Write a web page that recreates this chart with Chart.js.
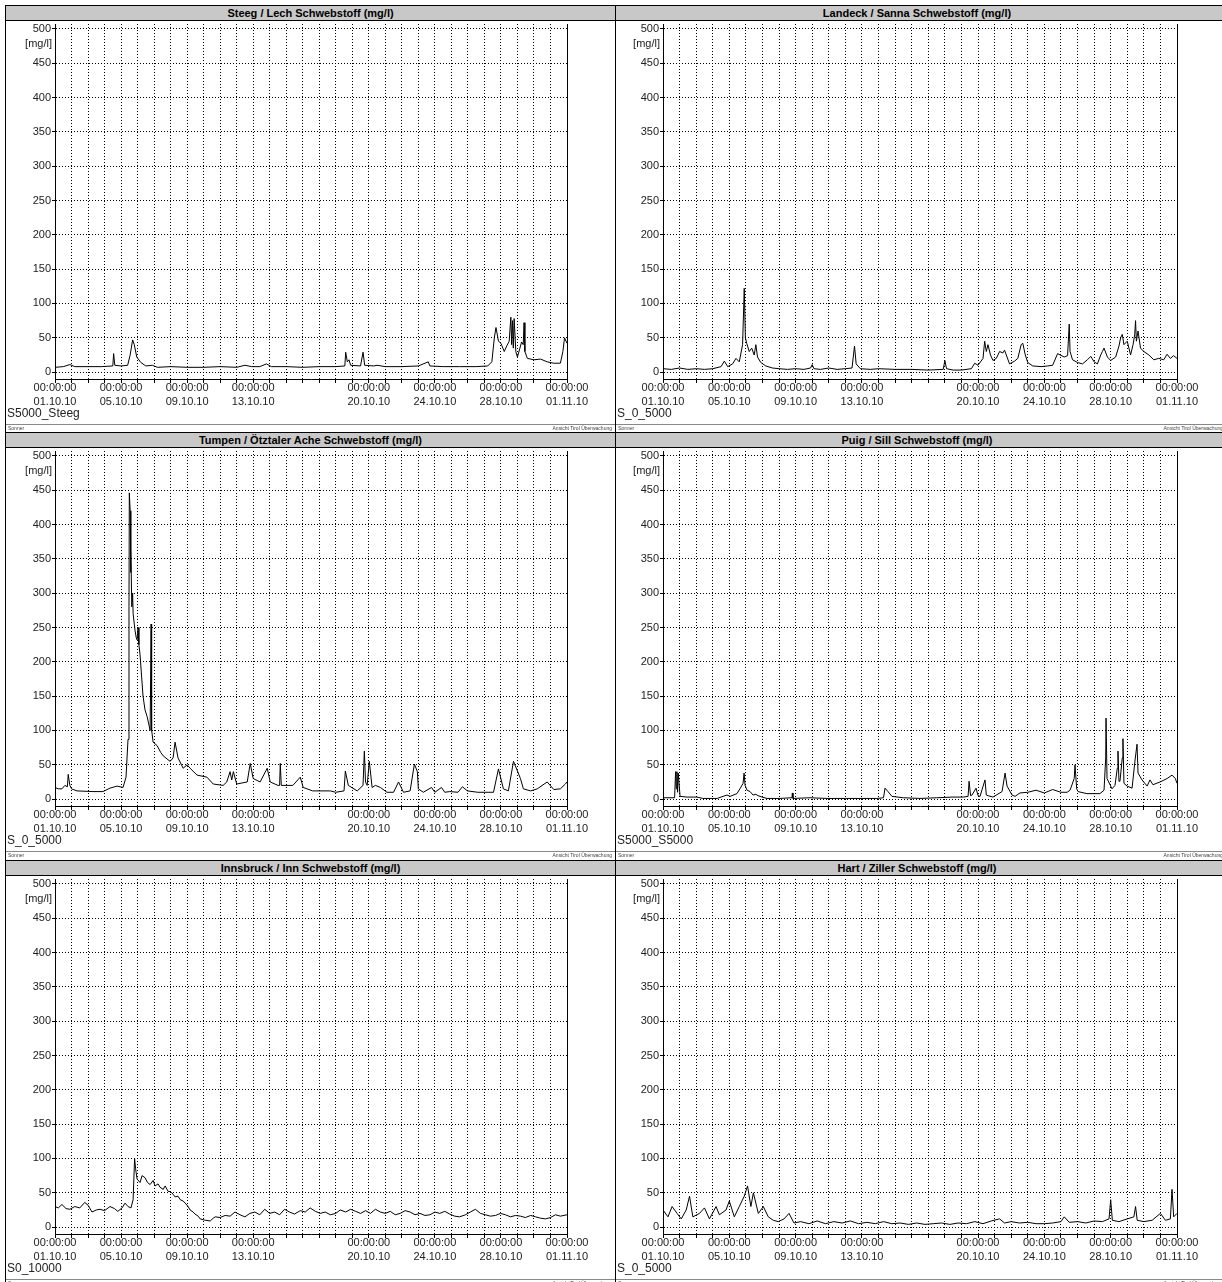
<!DOCTYPE html>
<html><head><meta charset="utf-8">
<script src="https://cdn.jsdelivr.net/npm/chart.js@4.4.1/dist/chart.umd.min.js"></script>
<style>
html,body{margin:0;padding:0;background:#fff;width:1222px;height:1282px;overflow:hidden;font-family:Arial,"Liberation Sans",sans-serif;}
.panel{position:absolute;border:1px solid #000;box-sizing:border-box;overflow:hidden;}
.tbar{position:absolute;left:0;right:0;top:0;height:14px;background:#c8c8c8;border-bottom:1px solid #000;font-weight:bold;font-size:11px;line-height:14px;text-align:center;color:#000;white-space:nowrap;}
.unit{position:absolute;top:31px;font-size:11px;line-height:13px;color:#222;text-align:right;width:40px;}
.code{position:absolute;left:1px;top:401px;font-size:12px;line-height:13px;color:#222;white-space:nowrap;}
.foot{position:absolute;left:0;right:0;top:418px;height:9px;border-top:1px solid #888;font-size:5px;line-height:7px;color:#444;}
.foot .l{position:absolute;left:2px;top:0;}
.foot .r{position:absolute;right:3px;top:0;}
canvas{position:absolute;left:0;top:15px;}
</style>
</head><body>
<script>
// ---- axis / tick data ----
const xLabelDays = [0, 4, 8, 12, 19, 23, 27, 31];
const xLabelDates = ['01.10.10', '05.10.10', '09.10.10', '13.10.10', '20.10.10', '24.10.10', '28.10.10', '01.11.10'];
const xLabelTime = '00:00:00';
const yTickValues = [0, 50, 100, 150, 200, 250, 300, 350, 400, 450, 500];
const yUnit = '[mg/l]';
const titles = ['Steeg / Lech Schwebstoff (mg/l)', 'Landeck / Sanna Schwebstoff (mg/l)',
  'Tumpen / Ötztaler Ache Schwebstoff (mg/l)', 'Puig / Sill Schwebstoff (mg/l)',
  'Innsbruck / Inn Schwebstoff (mg/l)', 'Hart / Ziller Schwebstoff (mg/l)'];
const codes = ['S5000_Steeg', 'S_0_5000', 'S_0_5000', 'S5000_S5000', 'S0_10000', 'S_0_5000'];
const footLeft = 'Sonner';
const footRight = 'Ansicht Tirol Überwachung';

// ---- series: [day since 01.10.10 00:00, mg/l] ----
const steegLech = [[0,7],[0.5,8],[0.9,11],[1.2,8],[2,8],[2.8,8],[3.5,9],[3.55,27],[3.62,10],[4.0,9],[4.4,10],[4.55,25],[4.7,47],[4.8,40],[4.95,22],[5.2,14],[5.5,9],[5.9,10],[6.2,7],[7,8],[8,7],[9,7],[10,8],[11,7],[11.5,10],[11.9,8],[12.4,8],[12.8,12],[13.1,8],[14,8],[15,7],[16,8],[17,8],[17.55,9],[17.6,29],[17.7,15],[17.8,18],[17.9,10],[18.5,9],[18.65,29],[18.75,10],[19.3,9],[19.5,10],[20,8],[21,8],[22,9],[22.6,15],[22.7,9],[23.5,8],[24.5,8],[25.5,8],[26.2,9],[26.45,15],[26.6,50],[26.7,65],[26.85,45],[27.0,42],[27.2,30],[27.35,38],[27.5,45],[27.6,80],[27.65,40],[27.7,75],[27.75,35],[27.8,78],[27.9,30],[28.0,22],[28.15,35],[28.25,44],[28.35,40],[28.4,72],[28.45,30],[28.6,20],[29.0,18],[29.4,19],[29.8,15],[30.2,13],[30.6,13],[30.75,30],[30.85,50],[31,42]];
const landeckSanna = [[0,5],[0.5,4],[1,6],[1.5,4],[2,5],[2.5,4],[3,5],[3.5,8],[3.7,16],[3.9,8],[4.2,12],[4.4,20],[4.6,15],[4.8,40],[4.9,122],[4.97,50],[5.05,42],[5.2,30],[5.35,35],[5.5,25],[5.6,40],[5.7,22],[5.9,14],[6.2,9],[6.6,6],[7,5],[7.5,4],[8,5],[8.5,4],[8.9,6],[9.0,11],[9.1,5],[9.5,4],[10,6],[10.5,4],[11,5],[11.4,6],[11.55,38],[11.65,12],[11.9,5],[12.5,4],[13,5],[14,4],[15,4],[16,3],[16.9,4],[17.0,17],[17.1,5],[17.5,3],[18,3],[18.6,5],[18.8,13],[19.0,10],[19.3,20],[19.4,45],[19.5,30],[19.6,40],[19.75,25],[19.9,17],[20.1,20],[20.3,30],[20.5,28],[20.6,32],[20.9,12],[21.2,16],[21.4,20],[21.6,40],[21.7,42],[21.85,25],[22.0,14],[22.3,9],[22.8,8],[23.2,9],[23.5,10],[23.8,27],[23.95,25],[24.2,22],[24.4,24],[24.5,70],[24.55,30],[24.7,18],[25.0,14],[25.3,12],[25.6,18],[25.8,23],[26.0,15],[26.2,12],[26.4,25],[26.5,30],[26.6,35],[26.8,22],[27.0,17],[27.3,22],[27.5,38],[27.6,50],[27.7,55],[27.8,40],[28.0,45],[28.2,25],[28.35,40],[28.45,55],[28.5,75],[28.55,45],[28.65,60],[28.8,35],[29.0,30],[29.3,25],[29.6,18],[29.9,20],[30.2,18],[30.4,26],[30.6,20],[30.8,24],[31,20]];
const tumpenOetztalerAche = [[0,17],[0.2,15],[0.42,15],[0.6,20],[0.75,18],[0.8,36],[0.9,20],[1.0,15],[1.33,12],[2.3,11],[2.9,11],[3.33,16],[3.76,19],[4.12,17],[4.3,32],[4.42,87],[4.48,280],[4.5,446],[4.55,420],[4.58,330],[4.6,365],[4.65,280],[4.7,300],[4.73,270],[4.8,255],[4.85,245],[4.92,235],[4.97,232],[5.03,250],[5.08,225],[5.15,210],[5.33,150],[5.45,130],[5.58,120],[5.76,100],[5.8,100],[5.82,255],[5.85,100],[5.88,95],[5.94,83],[6.18,78],[6.4,68],[6.55,63],[6.97,55],[7.15,60],[7.27,83],[7.45,60],[7.76,45],[8.0,50],[8.18,45],[8.6,35],[9.2,32],[9.58,22],[10.18,20],[10.4,25],[10.6,40],[10.7,28],[10.8,40],[11.0,22],[11.64,25],[11.82,52],[12.0,30],[12.42,25],[12.85,45],[13.03,25],[13.5,20],[13.6,20],[13.64,52],[13.7,20],[14.4,20],[14.85,32],[15.03,17],[15.6,12],[16.67,12],[17.0,10],[17.5,12],[17.58,41],[17.76,20],[18.3,12],[18.65,20],[18.73,70],[18.8,25],[18.9,20],[19.03,55],[19.2,17],[19.4,20],[19.7,17],[20.1,10],[20.5,10],[20.8,25],[21.1,10],[21.5,12],[21.76,51],[21.94,40],[22.0,15],[22.3,10],[22.8,17],[23.0,10],[23.4,17],[23.6,10],[23.9,11],[24.4,10],[24.67,18],[24.97,12],[25.6,10],[26.55,10],[26.85,44],[27.15,15],[27.45,12],[27.76,55],[28.0,41],[28.18,30],[28.36,15],[28.8,12],[29.2,15],[29.8,25],[30.2,14],[30.6,15],[30.9,22],[31,25]];
const puigSill = [[0,2],[0.7,2],[0.76,40],[0.8,15],[0.84,40],[0.88,10],[0.92,38],[1.03,4],[1.45,3],[2.05,3],[2.41,1],[3.26,1],[3.62,4],[3.86,6],[4.04,4],[4.46,8],[4.64,15],[4.83,23],[4.89,38],[4.95,20],[5.07,13],[5.25,11],[5.43,6],[5.6,7],[5.73,5],[5.97,3],[6.27,1],[7.0,1],[7.78,2],[7.8,9],[7.84,1],[8.87,2],[9.89,1],[11,1],[12.9,1],[13.3,2],[13.39,16],[13.57,11],[13.81,4],[14.5,2],[15.5,1],[16.5,2],[17.49,3],[18.1,3],[18.4,4],[18.46,26],[18.55,5],[18.64,6],[18.88,16],[19.0,5],[19.12,4],[19.42,28],[19.5,6],[19.6,5],[19.9,3],[20.45,11],[20.63,38],[20.75,19],[21.05,6],[21.23,4],[21.53,9],[22,10],[22.5,13],[23,9],[23.5,14],[24,10],[24.37,10],[24.55,13],[24.8,30],[24.85,50],[24.95,15],[25.03,11],[25.57,8],[26.35,8],[26.6,13],[26.7,60],[26.72,118],[26.78,30],[27.08,15],[27.26,20],[27.4,45],[27.44,70],[27.5,26],[27.56,26],[27.7,60],[27.74,88],[27.8,23],[27.99,19],[28.29,16],[28.47,57],[28.59,80],[28.65,38],[28.89,28],[29.2,19],[29.37,28],[29.55,21],[29.98,25],[30.4,30],[30.7,35],[30.9,30],[31,23]];
const innsbruckInn = [[0,30],[0.2,28],[0.42,33],[0.67,27],[0.9,26],[1.2,30],[1.5,28],[1.8,36],[2.0,32],[2.24,22],[2.5,25],[2.73,26],[3.0,24],[3.33,30],[3.6,27],[3.8,23],[4.06,28],[4.24,35],[4.42,30],[4.6,28],[4.73,40],[4.82,100],[4.88,85],[4.97,70],[5.15,65],[5.27,75],[5.45,72],[5.6,65],[5.76,62],[5.94,68],[6.06,60],[6.24,63],[6.36,58],[6.55,55],[6.67,60],[6.85,52],[6.97,52],[7.15,48],[7.27,44],[7.45,45],[7.58,40],[7.76,38],[7.88,35],[8.06,30],[8.18,25],[8.36,22],[8.48,19],[8.67,16],[8.79,12],[9.1,10],[9.4,9],[9.58,13],[9.7,15],[10.0,14],[10.3,17],[10.6,16],[10.9,22],[11.2,18],[11.5,15],[11.8,20],[12.1,22],[12.4,18],[12.7,26],[13.0,20],[13.3,22],[13.6,18],[13.9,26],[14.2,22],[14.5,19],[14.85,24],[15.15,22],[15.45,28],[15.76,23],[16.06,20],[16.36,22],[16.67,18],[17.0,20],[17.27,25],[17.6,22],[17.9,26],[18.2,23],[18.5,20],[18.8,24],[19.1,20],[19.4,26],[19.7,22],[20.0,20],[20.3,23],[20.6,18],[20.9,20],[21.2,24],[21.5,22],[21.8,18],[22.1,20],[22.4,17],[22.7,18],[23.0,22],[23.3,20],[23.6,23],[23.9,19],[24.2,16],[24.5,15],[24.85,18],[25.15,22],[25.45,26],[25.76,20],[26.06,18],[26.36,16],[26.67,17],[26.97,20],[27.27,18],[27.58,15],[27.88,17],[28.18,16],[28.48,14],[28.8,17],[29.1,15],[29.4,13],[29.7,12],[30.0,14],[30.3,18],[30.6,16],[31,18]];
const hartZiller = [[0,25],[0.3,15],[0.55,30],[0.85,20],[1.1,12],[1.4,25],[1.6,45],[1.8,15],[2.2,20],[2.5,28],[2.8,12],[3.2,30],[3.4,18],[3.8,25],[4.0,38],[4.3,15],[4.6,30],[4.9,45],[5.1,60],[5.3,30],[5.45,50],[5.75,20],[6.05,30],[6.35,15],[6.65,10],[6.95,8],[7.3,12],[7.6,20],[7.9,6],[8.3,8],[8.8,5],[9.3,9],[9.8,5],[10.3,8],[10.8,6],[11.3,9],[11.8,5],[12.3,7],[12.8,5],[13.3,8],[13.8,5],[14.3,6],[14.8,4],[15.3,6],[15.8,4],[16.3,5],[16.8,6],[17.3,4],[17.8,6],[18.3,5],[18.8,8],[19.3,5],[19.8,9],[20.3,12],[20.6,6],[21.0,8],[21.5,6],[22.0,7],[22.5,5],[23.0,5],[23.5,6],[24.0,8],[24.2,15],[24.5,7],[25.0,8],[25.5,6],[26.0,9],[26.5,8],[26.9,12],[27.0,40],[27.1,10],[27.5,8],[28.0,12],[28.4,15],[28.5,30],[28.6,10],[29.0,8],[29.5,10],[30.0,20],[30.3,10],[30.6,12],[30.7,55],[30.8,15],[31,20]];

const seriesList = [steegLech, landeckSanna, tumpenOetztalerAche, puigSill, innsbruckInn, hartZiller];

// ---- layout ----
const panelTops = [5, 432, 860];
const panelHeights = [428, 429, 428];
const colLeft = [5, 615];
const colWidth = [611, 612];
const canvasW = [608, 606];
const canvasH = 400;
const plotLeft = [49, 47];
const plotRight = [561, 561];
const plotTop = 3;
const xAxisH = 42;

const framePlugin = {
  id: 'frame',
  afterDraw(chart) {
    const {ctx, chartArea: a} = chart;
    ctx.save();
    ctx.strokeStyle = '#000';
    ctx.lineWidth = 1;
    ctx.beginPath();
    const x = Math.round(a.right) + 0.5;
    ctx.moveTo(x, a.top);
    ctx.lineTo(x, a.bottom);
    ctx.stroke();
    ctx.restore();
  }
};

Chart.defaults.font.family = 'Arial, "Liberation Sans", sans-serif';
Chart.defaults.font.size = 11;

seriesList.forEach((series, i) => {
  const row = Math.floor(i / 2), col = i % 2;
  const panel = document.createElement('div');
  panel.className = 'panel';
  panel.style.left = colLeft[col] + 'px';
  panel.style.top = panelTops[row] + 'px';
  panel.style.width = colWidth[col] + 'px';
  panel.style.height = panelHeights[row] + 'px';
  document.body.appendChild(panel);

  const bar = document.createElement('div');
  bar.className = 'tbar';
  bar.textContent = titles[i];
  if (col === 1) bar.style.paddingRight = '8px';
  panel.appendChild(bar);

  const cv = document.createElement('canvas');
  cv.width = canvasW[col]; cv.height = canvasH;
  cv.style.width = canvasW[col] + 'px'; cv.style.height = canvasH + 'px';
  panel.appendChild(cv);

  const unit = document.createElement('div');
  unit.className = 'unit';
  unit.textContent = yUnit;
  unit.style.left = (plotLeft[col] - 3 - 40) + 'px';
  panel.appendChild(unit);

  const code = document.createElement('div');
  code.className = 'code';
  code.textContent = codes[i];
  panel.appendChild(code);

  const foot = document.createElement('div');
  foot.className = 'foot';
  foot.innerHTML = '<span class="l"></span><span class="r"></span>';
  foot.querySelector('.l').textContent = footLeft;
  foot.querySelector('.r').textContent = footRight;
  panel.appendChild(foot);

  new Chart(cv, {
    type: 'line',
    data: {datasets: [{
      data: series.map(([x, y]) => ({x, y})),
      borderColor: '#000', borderWidth: 1, pointRadius: 0, tension: 0, fill: false
    }]},
    options: {
      animation: false, responsive: false, events: [],
      layout: {autoPadding: false, padding: {top: plotTop, left: 0, bottom: 0, right: canvasW[col] - plotRight[col]}},
      plugins: {legend: {display: false}, tooltip: {enabled: false}, title: {display: false}},
      scales: {
        x: {
          type: 'linear', min: 0, max: 31,
          afterBuildTicks: s => { s.ticks = Array.from({length: 32}, (_, d) => ({value: d})); },
          afterFit: s => { s.height = xAxisH; s.paddingLeft = 0; s.paddingRight = 0; },
          ticks: {
            autoSkip: false, maxRotation: 0, minRotation: 0, padding: -2, color: '#222',
            font: {size: 11, lineHeight: '14px'},
            callback: v => { const k = xLabelDays.indexOf(v); return k < 0 ? '' : [xLabelTime, xLabelDates[k]]; }
          },
          grid: {color: '#000', lineWidth: 1, tickLength: 4, tickColor: '#000'},
          border: {display: true, color: '#000', width: 1, dash: [1, 2]}
        },
        y: {
          min: -10, max: 507,
          afterBuildTicks: s => { s.ticks = yTickValues.map(v => ({value: v})); },
          afterFit: s => { s.width = plotLeft[col]; s.paddingTop = 0; s.paddingBottom = 0; },
          ticks: {padding: 1, color: '#222', font: {size: 11}, callback: v => String(v)},
          grid: {color: '#000', lineWidth: 1, tickLength: 3, tickColor: '#000'},
          border: {display: true, color: '#000', width: 1, dash: [1, 2]}
        }
      }
    },
    plugins: [framePlugin]
  });
});
</script>
</body></html>
